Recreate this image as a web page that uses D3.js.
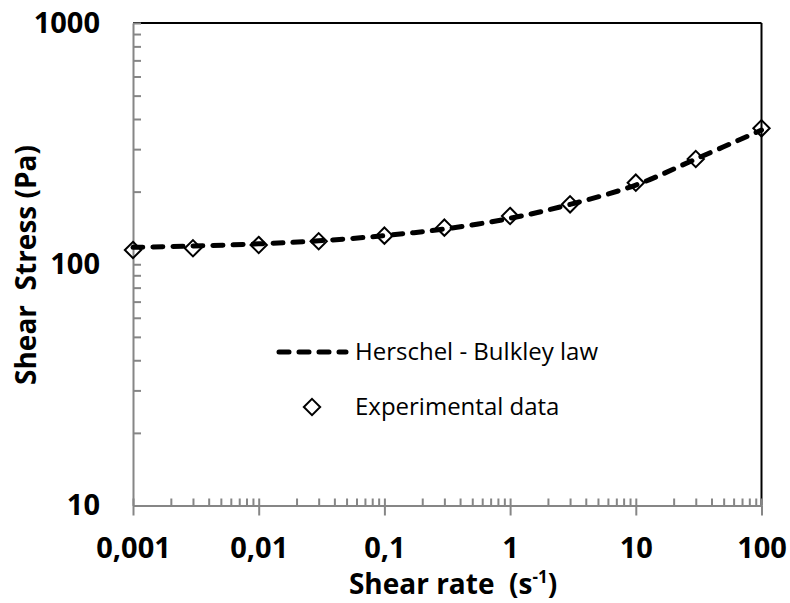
<!DOCTYPE html>
<html lang="en">
    <head>
        <meta charset="utf-8">
        <title>Shear stress vs shear rate</title>
        <script type="text/javascript" src="https://d3js.org/d3.v7.min.js"></script>
        <style type="text/css">
          body { margin: 0; background: #fff; }
          text { font-family: "Open Sans", sans-serif; fill: #000; white-space: pre; }
        </style>
    </head>
    <body>
        <svg width="790" height="603"></svg>
        <script type="text/javascript">

            const svg = d3.select("svg");

            // data
            const shearRate = [0.001, 0.003, 0.01, 0.03, 0.1, 0.3, 1, 3, 10, 30, 100];
            const expStress = [114.6, 116.5, 120.2, 124.5, 131.4, 141.8, 158.5, 177.2, 217.8, 273, 366];
            const fitStress = [117.5, 119, 121.5, 125, 131.4, 140, 155, 177, 213, 273, 360];

            const xMajor = [0.001, 0.01, 0.1, 1, 10, 100];
            const xLabels = ["0,001", "0,01", "0,1", "1", "10", "100"];
            const yMajor = [10, 100, 1000];
            const yLabels = ["10", "100", "1000"];

            const legendNames = ["Herschel - Bulkley law", "Experimental data"];

            // plot area
            const pLeft = 133, pRight = 761.5, pTop = 23, pBottom = 505.5;

            const x = d3.scaleLog().domain([0.001, 100]).range([pLeft, pRight]);
            const y = d3.scaleLog().domain([10, 1000]).range([pBottom, pTop]);

            // minor ticks 2..9 of every decade
            const minorX = [];
            for (let p = -3; p < 2; p++) for (let k = 2; k <= 9; k++) minorX.push(k * Math.pow(10, p));
            const minorY = [];
            for (let p = 1; p < 3; p++) for (let k = 2; k <= 9; k++) minorY.push(k * Math.pow(10, p));

            const gray = "#868686";

            // top and right frame
            svg.append("line").attr("x1", pLeft).attr("x2", pRight).attr("y1", pTop).attr("y2", pTop)
               .style("stroke", "#000").style("stroke-width", 2);
            svg.append("line").attr("x1", pRight).attr("x2", pRight).attr("y1", pTop).attr("y2", pBottom)
               .style("stroke", "#000").style("stroke-width", 2);

            // x axis: inner ticks (minor + major), outer major ticks with labels
            const xInner = svg.append("g").attr("transform", `translate(0,${pBottom})`)
                .call(d3.axisBottom(x).tickValues(minorX.concat(xMajor)).tickSize(-7).tickFormat(""));
            const xOuter = svg.append("g").attr("transform", `translate(0,${pBottom})`)
                .call(d3.axisBottom(x).tickValues(xMajor).tickSizeInner(10).tickSizeOuter(0)
                      .tickPadding(22).tickFormat((d, i) => xLabels[i]));

            // y axis
            const yInner = svg.append("g").attr("transform", `translate(${pLeft},0)`)
                .call(d3.axisLeft(y).tickValues(minorY).tickSize(-8).tickFormat(""));
            const yOuter = svg.append("g").attr("transform", `translate(${pLeft},0)`)
                .call(d3.axisLeft(y).tickValues(yMajor).tickSizeInner(10).tickSizeOuter(0)
                      .tickPadding(23).tickFormat((d, i) => yLabels[i]));

            [xInner, xOuter, yInner, yOuter].forEach(g => {
                g.selectAll("path").style("stroke", gray).style("stroke-width", 2);
                g.selectAll("line").style("stroke", gray).style("stroke-width", 2);
            });
            xInner.select(".domain").remove();
            yInner.select(".domain").remove();
            // major y ticks also cross the axis a little
            yOuter.selectAll(".tick line").attr("x2", 8);

            xOuter.selectAll("text").style("font-size", "29px").style("font-weight", "bold").attr("dy", "0.71em");
            yOuter.selectAll("text").style("font-size", "29px").style("font-weight", "bold");

            // axis titles
            const xTitle = svg.append("text").attr("x", 453).attr("y", 594)
               .attr("text-anchor", "middle").style("font-size", "28px").style("font-weight", "bold");
            xTitle.append("tspan").text("Shear rate  (s");
            xTitle.append("tspan").text("-1").attr("dy", -11).style("font-size", "17px");
            xTitle.append("tspan").text(")").attr("dy", 11);

            svg.append("text").attr("transform", "translate(36,265) rotate(-90)")
               .attr("text-anchor", "middle").style("font-size", "28px").style("font-weight", "bold")
               .text("Shear  Stress (Pa)");

            // experimental points (open diamonds)
            const diamond = d3.symbol().type(d3.symbolDiamond2).size(170);
            svg.selectAll("path.pt")
               .data(shearRate)
               .enter()
               .append("path")
               .attr("class", "pt")
               .attr("d", diamond)
               .attr("transform", (d, i) => `translate(${x(d)},${y(expStress[i])})`)
               .style("fill", "none")
               .style("stroke", "#000")
               .style("stroke-width", 2);

            // fitted curve
            const line = d3.line()
                           .x((d, i) => x(shearRate[i]))
                           .y(d => y(d))
                           .curve(d3.curveCatmullRom);
            svg.append("path")
               .attr("d", line(fitStress))
               .style("fill", "none")
               .style("stroke", "#000")
               .style("stroke-width", 5)
               .style("stroke-linecap", "round")
               .style("stroke-dasharray", "10 10");

            // legend
            const lg = svg.append("g");
            lg.append("line").attr("x1", 279).attr("x2", 346).attr("y1", 352).attr("y2", 352)
              .style("stroke", "#000").style("stroke-width", 5)
              .style("stroke-linecap", "round").style("stroke-dasharray", "10 10");
            lg.append("path").attr("d", diamond).attr("transform", "translate(312,407)")
              .style("fill", "none").style("stroke", "#000").style("stroke-width", 2);
            lg.selectAll("text.lg")
              .data(legendNames)
              .enter()
              .append("text")
              .attr("class", "lg")
              .attr("x", 355)
              .attr("y", (d, i) => 352 + i * 55)
              .attr("dy", "0.35em")
              .style("font-size", "24px")
              .text(d => d);

        </script>
    </body>
</html>
